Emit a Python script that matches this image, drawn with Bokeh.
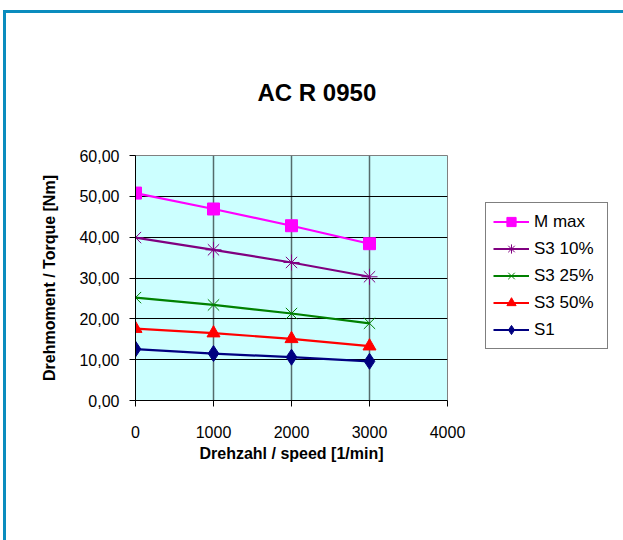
from bokeh.plotting import figure
from bokeh.layouts import row
from bokeh.models import Legend, LegendItem, CustomJSTickFormatter, FixedTicker, Range1d, ColumnDataSource
from bokeh.embed import file_html
from bokeh.resources import INLINE

speed = [0, 1000, 2000, 3000]
m_max = [50.8, 46.9, 42.8, 38.4]
s3_10 = [39.9, 36.9, 33.8, 30.3]
s3_25 = [25.2, 23.4, 21.3, 18.9]
s3_50 = [17.6, 16.5, 15.1, 13.3]
s1 = [12.6, 11.5, 10.6, 9.6]
x_ticks = [0, 1000, 2000, 3000, 4000]
y_ticks = [0, 10, 20, 30, 40, 50, 60]

FONT = "Liberation Sans"

p = figure(width=478, height=527, output_backend="svg", toolbar_location=None,
           x_range=Range1d(0, 4000), y_range=Range1d(0, 60),
           min_border_left=129, min_border_top=142, min_border_right=37, min_border_bottom=140)

p.title.text = "AC R 0950"
p.title.align = "left"
p.title.offset = 122
p.title.text_font = FONT
p.title.text_font_size = "24px"
p.title.text_font_style = "bold"
p.title.text_color = "black"
p.title.standoff = 99

p.background_fill_color = "#CCFFFF"
p.border_fill_color = "white"
p.outline_line_color = "#808080"
p.outline_line_width = 1

p.xgrid.grid_line_color = "#556b6b"
p.xgrid.grid_line_width = 1.5
p.ygrid.grid_line_color = "black"
p.ygrid.grid_line_width = 1

for ax in (p.xaxis[0], p.yaxis[0]):
    ax.axis_line_color = "black"
    ax.major_tick_line_color = "black"
    ax.major_tick_out = 6
    ax.major_tick_in = 0
    ax.minor_tick_line_color = None
    ax.major_label_text_font = FONT
    ax.major_label_text_font_size = "16px"
    ax.major_label_text_color = "black"
    ax.axis_label_text_font = FONT
    ax.axis_label_text_font_size = "16px"
    ax.axis_label_text_font_style = "bold"
    ax.axis_label_text_color = "black"

p.xaxis.ticker = FixedTicker(ticks=x_ticks)
p.yaxis.ticker = FixedTicker(ticks=y_ticks)
p.xgrid.ticker = FixedTicker(ticks=x_ticks)
p.ygrid.ticker = FixedTicker(ticks=y_ticks)
p.yaxis.formatter = CustomJSTickFormatter(code="return tick.toFixed(2).replace('.', ',');")
p.xaxis.axis_label = "Drehzahl / speed [1/min]"
p.yaxis.axis_label = "Drehmoment / Torque [Nm]"
p.xaxis.major_label_standoff = 19
p.xaxis.axis_label_standoff = 4
p.yaxis.major_label_standoff = 10
p.yaxis.axis_label_standoff = 18

series = [
    ("M max", m_max, "#FF00FF", "square", 12),
    ("S3 10%", s3_10, "#800080", "asterisk", 16),
    ("S3 25%", s3_25, "#008000", "x", 16),
    ("S3 50%", s3_50, "#FF0000", "triangle", 13),
    ("S1", s1, "#000080", "diamond", 16),
]

# legend lives in a small companion figure to the right of the plot
pl = figure(width=139, height=527, output_backend="svg", toolbar_location=None,
            x_range=Range1d(0, 1), y_range=Range1d(0, 1),
            min_border=0, min_border_left=0, min_border_right=0,
            min_border_top=0, min_border_bottom=0)
pl.axis.visible = False
pl.grid.visible = False
pl.outline_line_color = None
pl.background_fill_color = "white"
pl.border_fill_color = "white"

items = []
for name, vals, color, marker, size in series:
    p.line(speed, vals, line_color=color, line_width=2.2)
    p.scatter(speed, vals, marker=marker, size=size, line_color=color,
              fill_color=color, line_width=1)
    # off-screen proxy glyphs, only used to draw the legend swatches
    proxy = ColumnDataSource(data=dict(x=[-10], y=[-10]))
    l = pl.line("x", "y", source=proxy, line_color=color, line_width=2.2)
    m = pl.scatter("x", "y", source=proxy, marker=marker, size=size, line_color=color,
                   fill_color=color, line_width=1)
    items.append(LegendItem(label=name, renderers=[l, m]))

legend = Legend(items=items, location=(1, 51))
legend.label_text_font = FONT
legend.label_text_font_size = "17px"
legend.label_text_color = "black"
legend.label_width = 66
legend.glyph_width = 36
legend.glyph_height = 23
legend.label_standoff = 5
legend.spacing = 4
legend.padding = 7
legend.margin = 0
legend.border_line_color = "black"
legend.border_line_width = 1
legend.background_fill_color = "white"
legend.background_fill_alpha = 1
pl.add_layout(legend, "center")

layout = row(p, pl, spacing=0, margin=(10, 0, 0, 3))
layout.styles = {"border-top": "3px solid #0A8CBE", "border-left": "3px solid #0A8CBE"}

open("out.html", "w").write(file_html(layout, INLINE))
